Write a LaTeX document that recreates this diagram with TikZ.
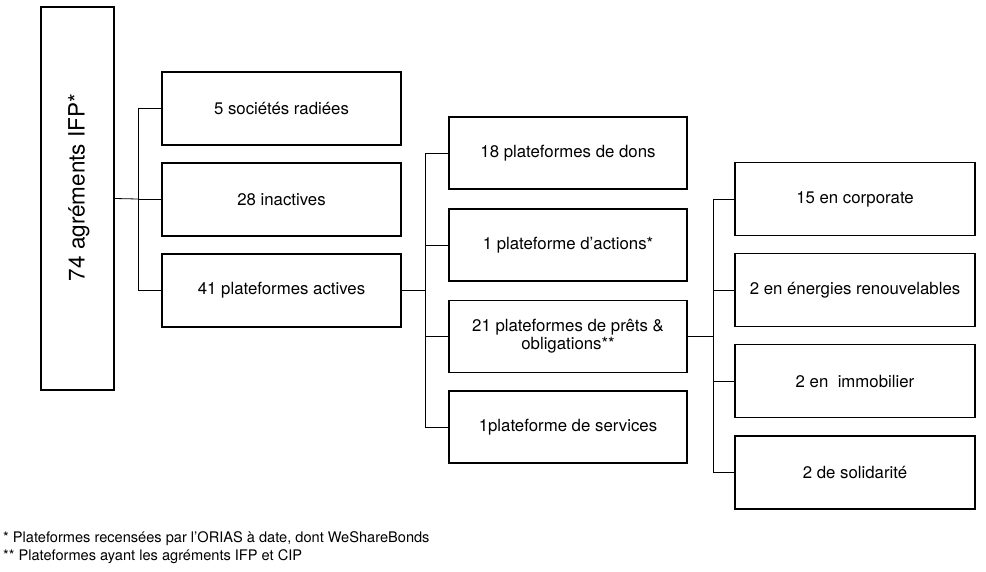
\documentclass[tikz,border=0pt]{standalone}
\usepackage{fontspec}
\setmainfont{TeX Gyre Heros}
\usetikzlibrary{positioning}

\tikzset{
  box/.style={draw, line width=1.8pt, minimum height=73pt, inner sep=2pt,
    align=center, font=\fontsize{16.8}{18}\selectfont},
  lvlone/.style={box, minimum width=239pt},
  lvltwo/.style={box, minimum width=238pt, minimum height=72pt},
  lvlthree/.style={box, minimum width=240pt},
  link/.style={line width=0.8pt},
  note/.style={anchor=west, inner sep=0pt, font=\fontsize{14.6}{16}\selectfont}
}

\begin{document}
\begin{tikzpicture}[x=1pt,y=-1pt]
  \useasboundingbox (0,0) rectangle (986,571);
  % root box
  \node[draw, line width=1.8pt, minimum width=73pt, minimum height=383pt] (root) at (77.5,198.5) {};
  \node[rotate=90, font=\fontsize{22.5}{24}\selectfont] (roottxt) at (79,187.5) {74 agréments IFP*};
  % first level
  \node[lvlone] (rad) at (281.5,108.5) {5 sociétés radiées};
  \node[lvlone] (inact) at (281.5,199.5) {28 inactives};
  \node[lvlone] (act) at (281.5,290.5) {41 plateformes actives};
  % second level
  \node[lvltwo] (dons) at (568,153) {18 plateformes de dons};
  \node[lvltwo] (actions) at (568,245) {1 plateforme d’actions*};
  \node[lvltwo] (prets) at (568,336.5) {21 plateformes de prêts \&\\obligations**};
  \node[lvltwo] (serv) at (568,427) {1plateforme de services};
  % third level
  \node[lvlthree] (corp) at (855,199) {15 en corporate};
  \node[lvlthree] (ener) at (855,290) {2 en énergies renouvelables};
  \node[lvlthree] (immo) at (855,381) {2 en\ \ immobilier};
  \node[lvlthree] (soli) at (855,472.5) {2 de solidarité};
  % junctions
  \coordinate (ja) at (138,199);
  \coordinate (jb) at (425,290.5);
  \coordinate (jc) at (713,336.5);
  \draw[link] (root.east) -- (ja);
  \foreach \n in {rad,inact,act} \draw[link] (\n.west) -| (ja);
  \draw[link] (act.east) -- (jb);
  \foreach \n in {dons,actions,prets,serv} \draw[link] (\n.west) -| (jb);
  \draw[link] (prets.east) -- (jc);
  \foreach \n in {corp,ener,immo,soli} \draw[link] (\n.west) -| (jc);
  % footnotes
  \node[note] (n1) at (3,539) {* Plateformes recensées par l’ORIAS à date, dont WeShareBonds};
  \node[note] (n2) at (3,557) {** Plateformes ayant les agréments IFP et CIP};
\end{tikzpicture}
\end{document}
